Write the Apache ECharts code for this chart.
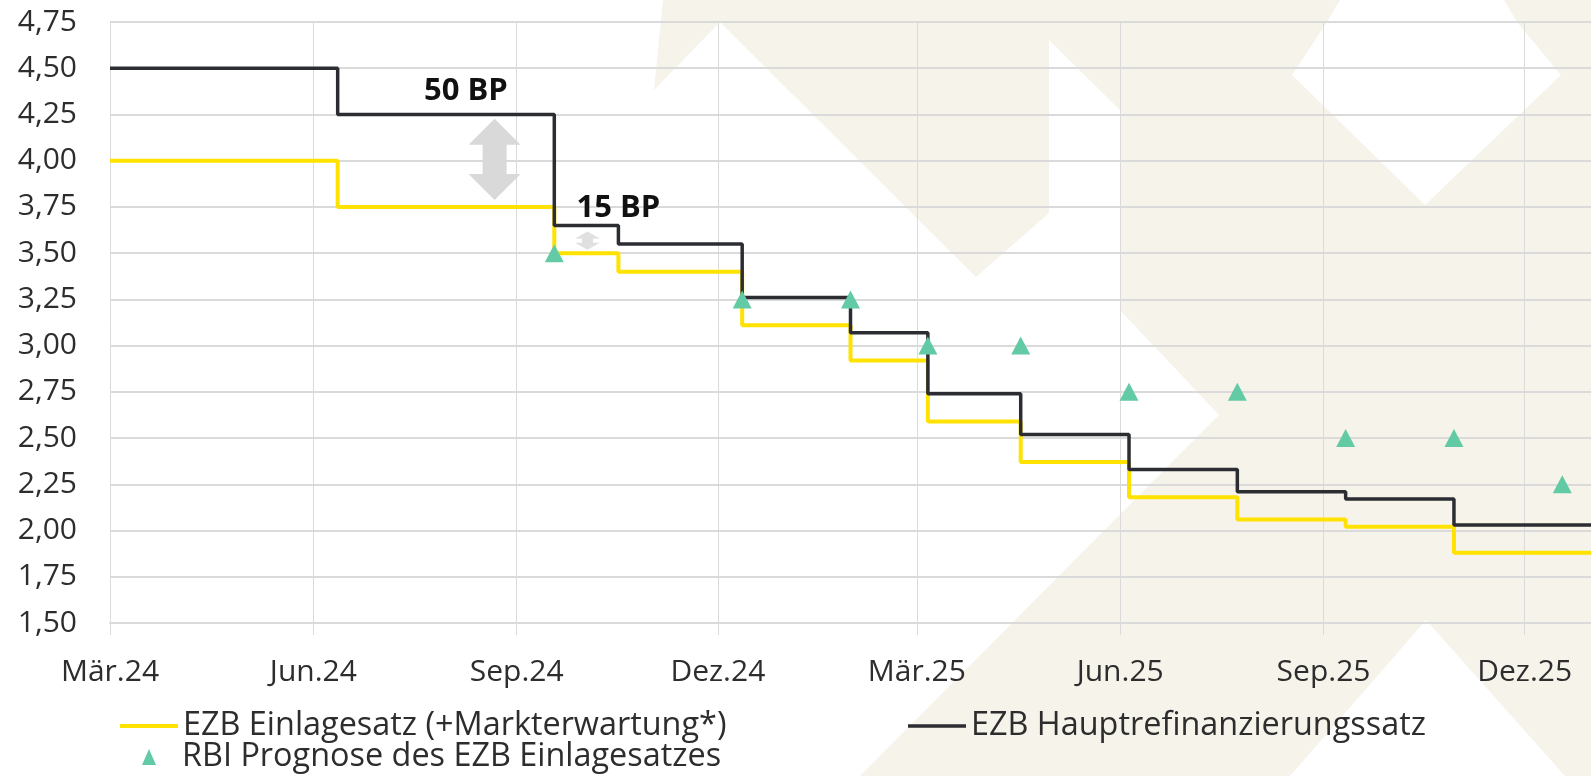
<!DOCTYPE html>
<html>
<head>
<meta charset="utf-8">
<script src="https://cdn.jsdelivr.net/npm/echarts@6/dist/echarts.min.js"></script>
<style>
html,body{margin:0;padding:0;background:#ffffff;}
#chart{width:1591px;height:776px;}
</style>
</head>
<body>
<div id="chart"></div>
<script>
// ---- data ----
const stepDates = ['2024-03-01','2024-06-12','2024-09-18','2024-10-17','2024-12-12','2025-01-30','2025-03-06','2025-04-17','2025-06-05','2025-07-24','2025-09-11','2025-10-30','2025-12-31'];
const depositRate = [4.00, 3.75, 3.50, 3.40, 3.11, 2.92, 2.59, 2.37, 2.18, 2.06, 2.02, 1.88, 1.88];
const mroRate     = [4.50, 4.25, 3.65, 3.55, 3.26, 3.07, 2.74, 2.52, 2.33, 2.21, 2.17, 2.03, 2.03];
const forecastDates = ['2024-09-18','2024-12-12','2025-01-30','2025-03-06','2025-04-17','2025-06-05','2025-07-24','2025-09-11','2025-10-30','2025-12-18'];
const forecastRate  = [3.50, 3.25, 3.25, 3.00, 3.00, 2.75, 2.75, 2.50, 2.50, 2.25];
const tickDates  = ['2024-03-01','2024-06-01','2024-09-01','2024-12-01','2025-03-01','2025-06-01','2025-09-01','2025-12-01'];
const tickLabels = ['Mär.24','Jun.24','Sep.24','Dez.24','Mär.25','Jun.25','Sep.25','Dez.25'];
const seriesNames = ['EZB Einlagesatz (+Markterwartung*)','EZB Hauptrefinanzierungssatz','RBI Prognose des EZB Einlagesatzes'];
const xRange = ['2024-03-01','2025-12-31'];
const yRange = [1.5, 4.75];
const yStep = 0.25;

function ts(s){const p=s.split('-').map(Number);return Date.UTC(p[0],p[1]-1,p[2]);}
const tickTs = tickDates.map(ts);
const FONT = '"Open Sans", "DejaVu Sans", sans-serif';
const TXT = '#2d2d2d';
const GRID = '#dadada';
const LEG_FS = 32.4;

const chart = echarts.init(document.getElementById('chart'), null, {renderer:'canvas'});

const option = {
  animation:false,
  backgroundColor:'#ffffff',
  textStyle:{fontFamily:FONT},
  grid:{left:110,right:0,top:22,bottom:153},
  xAxis:{
    type:'value',
    min:ts(xRange[0]), max:ts(xRange[1]),
    axisLine:{show:true,lineStyle:{color:GRID,width:2}},
    axisTick:{show:true,customValues:tickTs,length:12,lineStyle:{color:GRID,width:1}},
    axisLabel:{
      customValues:tickTs, margin:34, fontSize:30, color:TXT, fontFamily:FONT,
      formatter:function(v){const i=tickTs.indexOf(v);return i>=0?tickLabels[i]:'';}
    },
    splitLine:{show:true,lineStyle:{color:GRID,width:1}}
  },
  yAxis:{
    type:'value', min:yRange[0], max:yRange[1], interval:yStep,
    axisLine:{show:false}, axisTick:{show:false},
    axisLabel:{margin:33,fontSize:30,color:TXT,fontFamily:FONT,
      formatter:function(v){return v.toFixed(2).replace('.',',');}},
    splitLine:{show:true,lineStyle:{color:GRID,width:2}}
  },
  legend:[
    {data:[seriesNames[0]],left:120,top:710,padding:0,icon:'rect',itemWidth:58,itemHeight:4,
     textStyle:{fontSize:LEG_FS,color:TXT,fontFamily:FONT}},
    {data:[seriesNames[1]],left:908,top:710,padding:0,icon:'rect',itemWidth:58,itemHeight:3.5,
     textStyle:{fontSize:LEG_FS,color:TXT,fontFamily:FONT}},
    {data:[seriesNames[2]],left:142,top:741,padding:0,icon:'triangle',itemWidth:14,itemHeight:16,
     textStyle:{fontSize:LEG_FS,color:TXT,fontFamily:FONT,padding:[0,0,0,21]}}
  ],
  series:[
    {type:'line',name:seriesNames[0],step:'end',symbol:'none',z:2,
     data:stepDates.map((d,i)=>[ts(d),depositRate[i]]),
     lineStyle:{color:'#ffe200',width:4},itemStyle:{color:'#ffe200'}},
    {type:'line',name:seriesNames[1],step:'end',symbol:'none',z:3,
     data:stepDates.map((d,i)=>[ts(d),mroRate[i]]),
     lineStyle:{color:'#2b2d32',width:3.5},itemStyle:{color:'#2b2d32'}},
    {type:'scatter',name:seriesNames[2],symbol:'triangle',symbolSize:[19,18],z:4,
     data:forecastDates.map((d,i)=>[ts(d),forecastRate[i]]),
     itemStyle:{color:'#62caa5',opacity:1}}
  ]
};
chart.setOption(option);

// ---- decorations: background watermark and annotations ----
const BEIGE = '#f6f3eb';
const watermark = [
  [[663,0],[1340,0],[1327,22],[720,22],[654,90]],
  [[720,22],[1049,22],[1049,213],[976,277]],
  [[1049,22],[1327,22],[1292,75],[1425,205],[1561,75],[1517,22],[1504,0],[1591,0],[1591,776],[1565,776],[1426,620],[1290,776],[860,776],[1219,415],[1120,310],[1120,110],[1049,40]]
].map(p=>({type:'polygon',z:-10,silent:true,shape:{points:p},style:{fill:BEIGE}}));

function px(d,v){return chart.convertToPixel({xAxisIndex:0,yAxisIndex:0},[ts(d),v]);}
function dblArrow(d,vTop,vBot,headW,headH,shaftW,color){
  const a=px(d,vTop), b=px(d,vBot);
  const cx=a[0], y1=a[1], y2=b[1];
  const pts=[[cx,y1],[cx+headW/2,y1+headH],[cx+shaftW/2,y1+headH],[cx+shaftW/2,y2-headH],[cx+headW/2,y2-headH],[cx,y2],
             [cx-headW/2,y2-headH],[cx-shaftW/2,y2-headH],[cx-shaftW/2,y1+headH],[cx-headW/2,y1+headH]];
  return {type:'polygon',z:5,silent:true,shape:{points:pts},style:{fill:color}};
}
function label(d,v,text){
  const p=px(d,v);
  return {type:'text',z:6,silent:true,x:p[0],y:p[1],
    style:{text:text,font:'bold 31px "Open Sans", sans-serif',fill:'#111111',align:'center',verticalAlign:'middle',textAlign:'center',textVerticalAlign:'middle'}};
}
const annotations = [
  dblArrow('2024-08-22',4.227,3.788,52,26,24,'#d9d9d9'),
  dblArrow('2024-10-03',3.617,3.518,25,7,11,'#e0e0e0'),
  label('2024-08-09',4.378,'50 BP'),
  label('2024-10-17',3.745,'15 BP')
];
chart.setOption({graphic:{elements:watermark.concat(annotations)}});
</script>
</body>
</html>
